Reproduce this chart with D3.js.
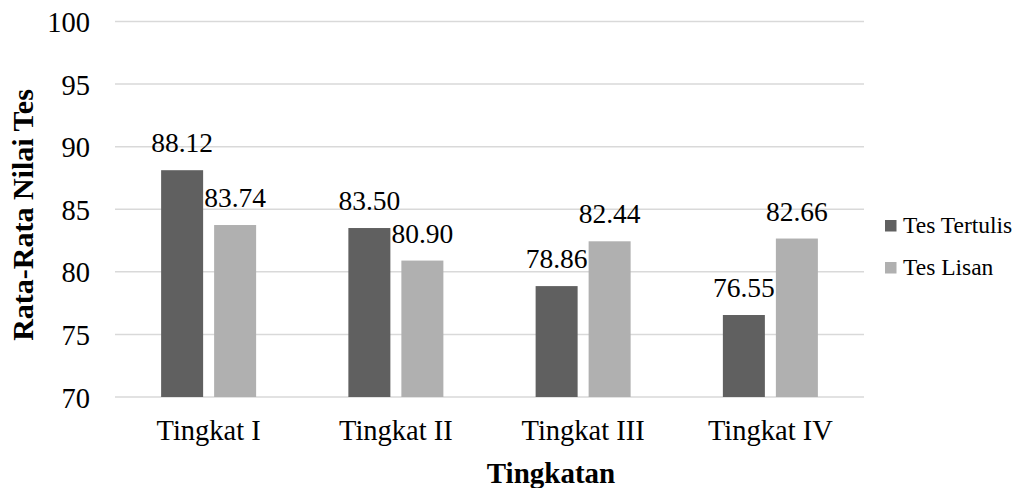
<!DOCTYPE html>
<html>
<head>
<meta charset="utf-8">
<script src="https://cdn.jsdelivr.net/npm/d3@7"></script>
<style>
  html, body { margin: 0; padding: 0; background: #fff; }
  svg { display: block; }
  svg text { font-family: "Liberation Serif", Tinos, "Times New Roman", Times, serif; font-weight: normal; }
  svg text.bold { font-weight: bold; }
</style>
</head>
<body>
<svg id="chart" width="1022" height="488"></svg>
<script>
// Average test scores per level, written vs. oral
const categories = ["Tingkat I", "Tingkat II", "Tingkat III", "Tingkat IV"];
const seriesNames = ["Tes Tertulis", "Tes Lisan"];
const tesTertulis = [88.12, 83.50, 78.86, 76.55];
const tesLisan = [83.74, 80.90, 82.44, 82.66];
const yTicks = [70, 75, 80, 85, 90, 95, 100];
const seriesColors = ["#606060", "#b0b0b0"];

const seriesValues = [tesTertulis, tesLisan];

const svg = d3.select("#chart");

const plot = { left: 115, right: 864, top: 21.5, bottom: 397 };

const x0 = d3.scaleBand()
  .domain(categories)
  .range([plot.left, plot.right])
  .paddingInner(0)
  .paddingOuter(0);

const x1 = d3.scaleBand()
  .domain(seriesNames)
  .range([0, x0.bandwidth()])
  .paddingInner(0.2075)
  .paddingOuter(0.87);

const y = d3.scaleLinear()
  .domain([70, 100])
  .range([plot.bottom, plot.top]);

// gridlines
svg.append("g")
  .selectAll("line")
  .data(yTicks)
  .join("line")
  .attr("x1", plot.left)
  .attr("x2", plot.right)
  .attr("y1", d => y(d))
  .attr("y2", d => y(d))
  .attr("stroke", "#d9d9d9")
  .attr("stroke-width", 1.5);

// y tick labels
svg.append("g")
  .selectAll("text")
  .data(yTicks)
  .join("text")
  .attr("x", 90)
  .attr("y", d => y(d) + 10.5)
  .attr("text-anchor", "end")
  .attr("font-size", "28.5px")
  .attr("fill", "#000")
  .text(d => d);

// bars
const groups = svg.append("g")
  .selectAll("g")
  .data(categories)
  .join("g")
  .attr("transform", d => `translate(${x0(d)},0)`);

const cells = groups.selectAll("g")
  .data((c, i) => seriesNames.map((s, j) => ({ series: s, value: seriesValues[j][i], j })))
  .join("g");

cells.append("rect")
  .attr("x", d => x1(d.series))
  .attr("width", x1.bandwidth())
  .attr("y", d => y(d.value))
  .attr("height", d => y(70) - y(d.value))
  .attr("fill", d => seriesColors[d.j]);

// value labels
cells.append("text")
  .attr("x", d => x1(d.series) + x1.bandwidth() / 2)
  .attr("y", d => y(d.value) - 18)
  .attr("text-anchor", "middle")
  .attr("font-size", "27.5px")
  .attr("fill", "#000")
  .text(d => d.value.toFixed(2));

// category labels
svg.append("g")
  .selectAll("text")
  .data(categories)
  .join("text")
  .attr("x", d => x0(d) + x0.bandwidth() / 2)
  .attr("y", 440)
  .attr("text-anchor", "middle")
  .attr("font-size", "28.5px")
  .attr("fill", "#000")
  .text(d => d);

// axis titles
svg.append("text")
  .attr("class", "bold")
  .attr("x", 551)
  .attr("y", 483)
  .attr("text-anchor", "middle")
  .attr("font-size", "29px")
  .attr("fill", "#000")
  .text("Tingkatan");

svg.append("text")
  .attr("class", "bold")
  .attr("transform", "translate(33,215) rotate(-90)")
  .attr("text-anchor", "middle")
  .attr("font-size", "30px")
  .attr("fill", "#000")
  .text("Rata-Rata Nilai Tes");

// legend
const legend = svg.append("g")
  .selectAll("g")
  .data(seriesNames)
  .join("g")
  .attr("transform", (d, i) => `translate(885,${233 + i * 42})`);

legend.append("rect")
  .attr("x", 0)
  .attr("y", -13)
  .attr("width", 11.5)
  .attr("height", 11.5)
  .attr("fill", (d, i) => seriesColors[i]);

legend.append("text")
  .attr("x", 18)
  .attr("y", 0)
  .attr("font-size", "23.5px")
  .attr("fill", "#000")
  .text(d => d);
</script>
</body>
</html>
